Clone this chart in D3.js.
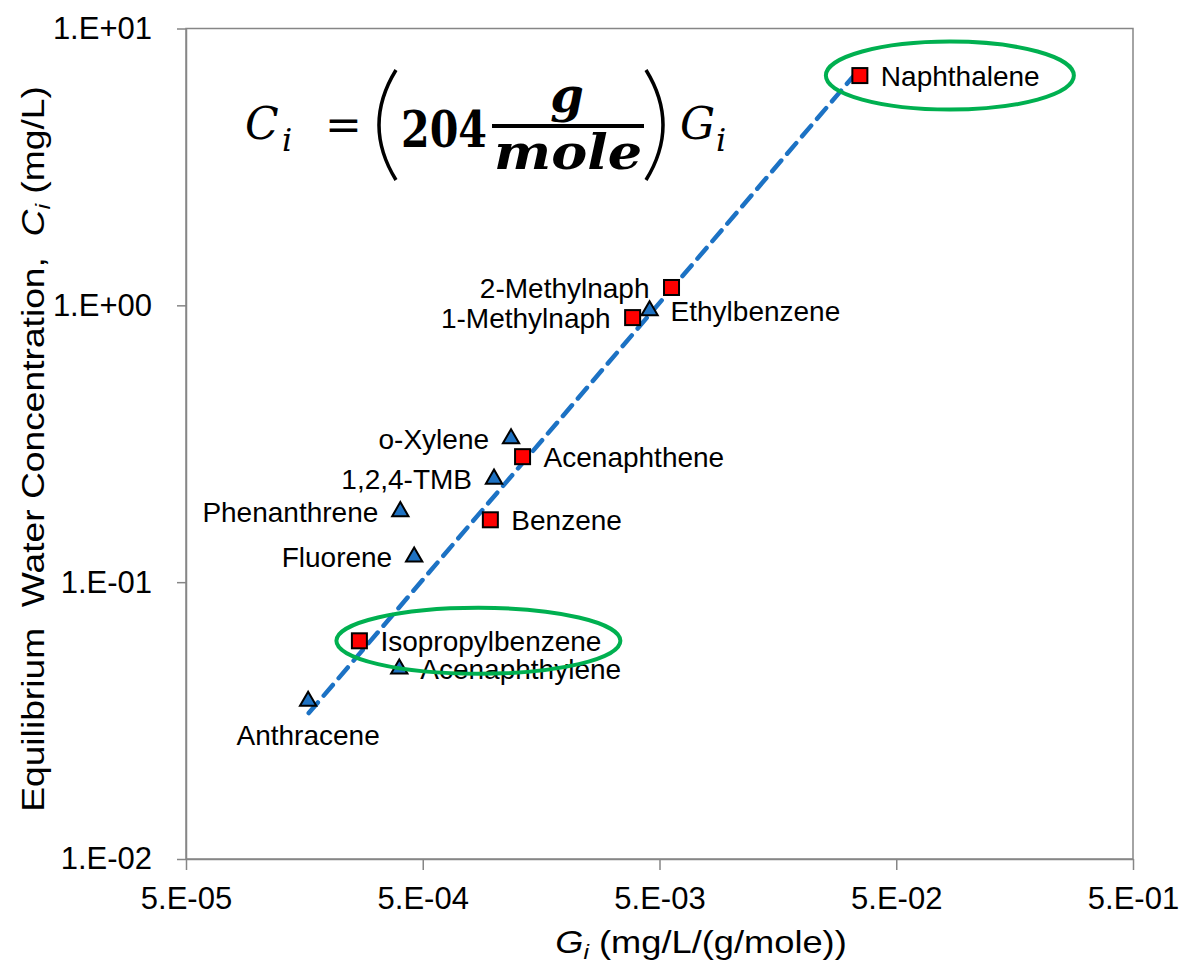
<!DOCTYPE html>
<html>
<head>
<meta charset="utf-8">
<script src="https://cdn.jsdelivr.net/npm/d3@7"></script>
<style>
  body { margin: 0; background: #fff; }
  svg { display: block; }
</style>
</head>
<body>
<svg id="chart" width="1184" height="963"></svg>
<script>
// Compounds plotted as red squares
const squareNames = ["Naphthalene", "2-Methylnaph", "1-Methylnaph", "Acenaphthene", "Benzene", "Isopropylbenzene"];
const squareG = [0.0351, 0.00562, 0.00385, 0.00132, 0.000965, 0.00027];
const squareC = [6.76, 1.16, 0.903, 0.284, 0.168, 0.0614];

// Compounds plotted as blue triangles
const triangleNames = ["Ethylbenzene", "o-Xylene", "1,2,4-TMB", "Phenanthrene", "Fluorene", "Acenaphthylene", "Anthracene"];
const triangleG = [0.00454, 0.00118, 0.00100, 0.000402, 0.00046, 0.000398, 0.000164];
const triangleC = [0.957, 0.330, 0.236, 0.180, 0.1235, 0.0486, 0.0372];

// Axis ticks
const xTicks = [5e-5, 5e-4, 5e-3, 5e-2, 5e-1];
const xTickLabels = ["5.E-05", "5.E-04", "5.E-03", "5.E-02", "5.E-01"];
const yTicks = [1e-2, 1e-1, 1, 10];
const yTickLabels = ["1.E-02", "1.E-01", "1.E+00", "1.E+01"];

// Fitted relation C = 204 * G, drawn over this G range
const fitSlope = 204;
const fitRange = [1.65e-4, 3.4e-2];

// Which side each label sits on
const labelSide = {
  "Naphthalene": "right", "2-Methylnaph": "left", "1-Methylnaph": "left",
  "Acenaphthene": "right", "Benzene": "right", "Isopropylbenzene": "right",
  "Ethylbenzene": "right", "o-Xylene": "left", "1,2,4-TMB": "left",
  "Phenanthrene": "left", "Fluorene": "left", "Acenaphthylene": "right",
  "Anthracene": "below"
};

// Highlight ellipses around selected compounds
const highlight = {
  "Naphthalene": { dx: 90, rx: 124, ry: 34 },
  "Isopropylbenzene": { dx: 119, rx: 142, ry: 33 }
};

const svg = d3.select("#chart");
const plotLeft = 186, plotRight = 1133, plotTop = 28.5, plotBottom = 859;

const x = d3.scaleLog().domain([5e-5, 5e-1]).range([plotLeft, plotRight]);
const y = d3.scaleLog().domain([1e-2, 1e1]).range([plotBottom, plotTop]);

const axisColor = "#868686";
const sans = "Arial, 'Liberation Sans', sans-serif";
const serif = "'Cambria Math', 'DejaVu Serif', 'Liberation Serif', serif";

svg.append("rect").attr("width", 1184).attr("height", 963).attr("fill", "#fff");

// Plot frame
svg.append("rect")
  .attr("x", plotLeft).attr("y", plotTop)
  .attr("width", plotRight - plotLeft).attr("height", plotBottom - plotTop)
  .attr("fill", "none").attr("stroke", axisColor).attr("stroke-width", 1.5);

// X axis
const xAxis = svg.append("g").attr("transform", `translate(0,${plotBottom})`)
  .call(d3.axisBottom(x).tickValues(xTicks)
    .tickFormat((d, i) => xTickLabels[i]).tickSize(11).tickSizeOuter(0).tickPadding(17));
// Y axis
const yAxis = svg.append("g").attr("transform", `translate(${plotLeft},0)`)
  .call(d3.axisLeft(y).tickValues(yTicks)
    .tickFormat((d, i) => yTickLabels[i]).tickSize(9).tickSizeOuter(0).tickPadding(25));

[xAxis, yAxis].forEach(g => {
  g.select(".domain").attr("stroke", axisColor).attr("stroke-width", 1.5);
  g.selectAll(".tick line").attr("stroke", axisColor).attr("stroke-width", 1.5);
  g.selectAll(".tick text").attr("fill", "#000").style("font-family", sans).style("font-size", "31px");
});

// Fitted dashed line
const fitLine = d3.line().x(d => x(d)).y(d => y(d * fitSlope));
svg.append("path")
  .attr("d", fitLine(fitRange))
  .attr("fill", "none")
  .attr("stroke", "#1c72c4")
  .attr("stroke-width", 4.5)
  .attr("stroke-dasharray", "14,9")
  .attr("stroke-linecap", "round");

// Markers
const squares = squareNames.map((n, i) => ({ name: n, g: squareG[i], c: squareC[i] }));
const triangles = triangleNames.map((n, i) => ({ name: n, g: triangleG[i], c: triangleC[i] }));

svg.append("g").selectAll("rect").data(squares).join("rect")
  .attr("x", d => x(d.g) - 7.5).attr("y", d => y(d.c) - 7.5)
  .attr("width", 15).attr("height", 15)
  .attr("fill", "#ff0000").attr("stroke", "#000").attr("stroke-width", 2);

const tri = d3.symbol().type(d3.symbolTriangle).size(115);
svg.append("g").selectAll("path").data(triangles).join("path")
  .attr("d", tri)
  .attr("transform", d => `translate(${x(d.g)},${y(d.c)})`)
  .attr("fill", "#1f72c2").attr("stroke", "#000").attr("stroke-width", 2);

// Labels
const allPoints = squares.concat(triangles);
svg.append("g").selectAll("text").data(allPoints).join("text")
  .attr("x", d => {
    const s = labelSide[d.name];
    if (s === "right") return x(d.g) + 21;
    if (s === "left") return x(d.g) - 22;
    return x(d.g);
  })
  .attr("y", d => labelSide[d.name] === "below" ? y(d.c) + 34 : y(d.c))
  .attr("dy", "0.36em")
  .attr("text-anchor", d => {
    const s = labelSide[d.name];
    return s === "right" ? "start" : s === "left" ? "end" : "middle";
  })
  .style("font-family", sans).style("font-size", "28px").attr("fill", "#000")
  .text(d => d.name);

// Highlight ellipses
svg.append("g").selectAll("ellipse")
  .data(allPoints.filter(d => highlight[d.name])).join("ellipse")
  .attr("cx", d => x(d.g) + highlight[d.name].dx)
  .attr("cy", d => y(d.c))
  .attr("rx", d => highlight[d.name].rx)
  .attr("ry", d => highlight[d.name].ry)
  .attr("fill", "none").attr("stroke", "#00b050").attr("stroke-width", 4);

// Axis titles
const xt = svg.append("text")
  .attr("transform", "translate(701,953) scale(1.17,1)")
  .attr("text-anchor", "middle")
  .style("font-family", sans).style("font-size", "31px").attr("fill", "#000");
xt.append("tspan").style("font-style", "italic").text("G");
xt.append("tspan").style("font-style", "italic").style("font-size", "21px").attr("dy", 6).text("i");
xt.append("tspan").attr("dy", -6).text(" (mg/L/(g/mole))");

const yt = svg.append("text")
  .attr("transform", "translate(44,449) rotate(-90) scale(1.2,1)")
  .attr("text-anchor", "middle")
  .style("font-family", sans).style("font-size", "31px").attr("fill", "#000")
  .style("white-space", "pre");
yt.append("tspan").text("Equilibrium  Water Concentration,  ");
yt.append("tspan").style("font-style", "italic").text("C");
yt.append("tspan").style("font-style", "italic").style("font-size", "21px").attr("dy", 6).text("i");
yt.append("tspan").attr("dy", -6).text(" (mg/L)");

// Equation: C_i = (204 g/mole) G_i
const eq = svg.append("g").attr("fill", "#000").style("font-family", serif);
eq.append("text").attr("x", 245).attr("y", 139).style("font-size", "44px").style("font-style", "italic").text("C");
eq.append("text").attr("x", 282).attr("y", 151).style("font-size", "32px").style("font-style", "italic").text("i");
eq.append("text").attr("x", 325).attr("y", 140).style("font-size", "44px").text("=");
eq.append("text").attr("x", 401).attr("y", 147)
  .attr("textLength", 86).attr("lengthAdjust", "spacingAndGlyphs")
  .style("font-size", "50px").style("font-weight", "bold").text("204");
eq.append("line").attr("x1", 492).attr("x2", 644).attr("y1", 126).attr("y2", 126)
  .attr("stroke", "#000").attr("stroke-width", 4);
eq.append("text").attr("x", 567).attr("y", 112).attr("text-anchor", "middle")
  .style("font-size", "48px").style("font-weight", "bold").style("font-style", "italic").text("g");
eq.append("text").attr("x", 494).attr("y", 169)
  .attr("textLength", 148).attr("lengthAdjust", "spacingAndGlyphs")
  .style("font-size", "48px").style("font-weight", "bold").style("font-style", "italic").text("mole");
eq.append("path").attr("d", "M396,70 Q362,125 396,180").attr("fill", "none").attr("stroke", "#000").attr("stroke-width", 3.5);
eq.append("path").attr("d", "M646,70 Q680,125 646,180").attr("fill", "none").attr("stroke", "#000").attr("stroke-width", 3.5);
eq.append("text").attr("x", 680).attr("y", 139).style("font-size", "44px").style("font-style", "italic").text("G");
eq.append("text").attr("x", 716).attr("y", 151).style("font-size", "32px").style("font-style", "italic").text("i");
</script>
</body>
</html>
